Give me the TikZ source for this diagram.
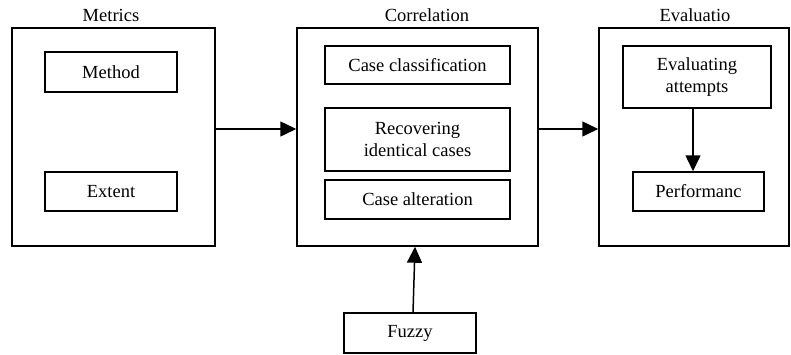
\documentclass[tikz,border=0pt]{standalone}
\usepackage{fontspec}
\setmainfont{Liberation Serif}
\usetikzlibrary{arrows.meta}
\begin{document}
\begin{tikzpicture}[x=1pt,y=-1pt,
  every node/.style={font=\fontsize{18.5}{21.5}\selectfont},
  outer/.style={draw,line width=1.5pt,minimum height=218pt,inner sep=0pt},
  inbox/.style={draw,line width=1.5pt,inner sep=0pt,align=center},
  lbl/.style={inner sep=0pt},
  arr/.style={line width=1.5pt,-{Triangle[length=16pt,width=15pt]}}]
\useasboundingbox (0,0) rectangle (791,354);
\node[outer,minimum width=203pt] (left) at (113.5,137) {};
\node[outer,minimum width=241pt] (mid) at (417.5,137) {};
\node[outer,minimum width=190pt] (right) at (694,137) {};
\node[lbl] (lmet) at (111,15) {Metrics};
\node[lbl] (lcor) at (427,15) {Correlation};
\node[lbl] (leva) at (695,15) {Evaluatio};
\node[inbox,minimum width=132pt,minimum height=40pt] (method) at (111,72) {Method};
\node[inbox,minimum width=132pt,minimum height=39pt] (extent) at (111,191.5) {Extent};
\node[inbox,minimum width=185pt,minimum height=38pt] (cc) at (417.5,65) {Case classification};
\node[inbox,minimum width=185pt,minimum height=63pt] (rec) at (417.5,139.5) {Recovering\\identical cases};
\node[inbox,minimum width=185pt,minimum height=39pt] (ca) at (417.5,199.5) {Case alteration};
\node[inbox,minimum width=148pt,minimum height=62pt] (ea) at (697,77) {Evaluating\\attempts};
\node[inbox,minimum width=131pt,minimum height=39pt] (perf) at (698.5,191.5) {Performanc};
\node[inbox,minimum width=132pt,minimum height=40pt] (fuzzy) at (410,333) {Fuzzy};
\draw[arr] ([yshift=8pt]left.east) -- ([yshift=8pt]mid.west);
\draw[arr] ([yshift=8pt]mid.east) -- ([yshift=8pt]right.west);
\draw[arr] ([xshift=-4pt]ea.south) -- ([xshift=-5.5pt]perf.north);
\draw[arr] ([xshift=3pt]fuzzy.north) -- ([xshift=-2.5pt]mid.south);
\end{tikzpicture}
\end{document}
